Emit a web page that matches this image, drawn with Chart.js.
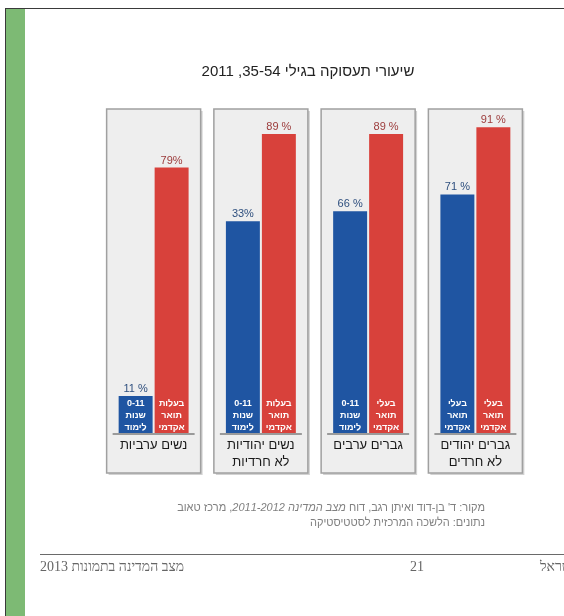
<!DOCTYPE html>
<html lang="he"><head><meta charset="utf-8">
<script src="https://cdn.jsdelivr.net/npm/chart.js@4.4.1/dist/chart.umd.min.js"></script>
<style>
html,body{margin:0;padding:0;background:#fff;width:564px;height:616px;overflow:hidden;}
#frame{position:absolute;left:5px;top:8px;width:600px;height:640px;border-left:1.5px solid #3a3a3a;border-top:1.5px solid #3a3a3a;}
#green{position:absolute;left:6px;top:9px;width:19px;height:607px;background:#7dba74;}
canvas{position:absolute;left:0;top:0;}
.src{position:absolute;right:79px;font-family:'Liberation Sans',Arial,sans-serif;font-size:11px;color:#808080;direction:rtl;white-space:nowrap;}
#rule{position:absolute;left:40px;top:554px;width:524px;height:1px;background:#6a6a6a;}
.foot{position:absolute;top:559px;font-family:'Liberation Serif','DejaVu Serif',serif;font-size:14px;color:#666;direction:rtl;white-space:nowrap;}
</style></head>
<body>
<div id="frame"></div>
<div id="green"></div>
<canvas id="c" width="564" height="616" dir="rtl"></canvas>
<div class="src" style="top:501px">מקור: ד' בן-דוד ואיתן רגב, דוח <i>מצב המדינה 2011-2012</i>, מרכז טאוב</div>
<div class="src" style="top:516px">נתונים: הלשכה המרכזית לסטטיסטיקה</div>
<div id="rule"></div>
<div class="foot" style="left:40px">מצב המדינה בתמונות 2013</div>
<div class="foot" style="left:410px;direction:ltr">21</div>
<div class="foot" style="left:540px">ישראל</div>
<script>
const chartTitle = 'שיעורי תעסוקה בגילי 35-54, 2011';
const categories = [['נשים ערביות'], ['נשים יהודיות', 'לא חרדיות'], ['גברים ערבים'], ['גברים יהודים', 'לא חרדים']];
const seriesNames = ['0-11 שנות לימוד', 'בעלי תואר אקדמי'];
// bar heights as drawn in the picture (the 33% bar is drawn taller in the original)
const blueValues = [11, 63, 66, 71];
const redValues = [79, 89, 89, 91];
const blueLabels = ['11 %', '33%', '66 %', '71 %'];
const redLabels = ['79%', '89 %', '89 %', '91 %'];
const blueInBar = [['0-11', 'שנות', 'לימוד'], ['0-11', 'שנות', 'לימוד'], ['0-11', 'שנות', 'לימוד'], ['בעלי', 'תואר', 'אקדמי']];
const redInBar = [['בעלות', 'תואר', 'אקדמי'], ['בעלות', 'תואר', 'אקדמי'], ['בעלי', 'תואר', 'אקדמי'], ['בעלי', 'תואר', 'אקדמי']];

const FONT = "'Liberation Sans', Arial, 'DejaVu Sans', sans-serif";

const panelPlugin = {
  id: 'panels',
  beforeDatasetsDraw(chart) {
    const ctx = chart.ctx, x = chart.scales.x;
    ctx.save();
    categories.forEach((c, i) => {
      const cx = x.getPixelForValue(i);
      const l = cx - 47, t = 109, w = 94, h = 364;
      ctx.fillStyle = '#d2d2d2';
      ctx.fillRect(l + 2, t + 2, w, h);
      ctx.fillStyle = '#eeeeee';
      ctx.fillRect(l, t, w, h);
      ctx.strokeStyle = '#a0a0a0';
      ctx.lineWidth = 1.5;
      ctx.strokeRect(l, t, w, h);
    });
    ctx.restore();
  },
  afterDatasetsDraw(chart) {
    const ctx = chart.ctx, x = chart.scales.x, y = chart.scales.y;
    const base = y.getPixelForValue(0);
    ctx.save();
    ctx.direction = 'rtl';
    // title
    ctx.fillStyle = '#222';
    ctx.font = '15px ' + FONT;
    ctx.textAlign = 'center';
    ctx.textBaseline = 'middle';
    ctx.fillText(chartTitle, 308, 72);
    categories.forEach((c, i) => {
      const cx = x.getPixelForValue(i);
      ctx.strokeStyle = '#9a9a9a';
      ctx.lineWidth = 2;
      ctx.beginPath();
      ctx.moveTo(cx - 41, base + 1);
      ctx.lineTo(cx + 41, base + 1);
      ctx.stroke();
      ctx.fillStyle = '#1a1a1a';
      ctx.font = '13px ' + FONT;
      c.forEach((line, k) => ctx.fillText(line, cx, base + 12 + k * 17));
    });
    const metas = [chart.getDatasetMeta(0), chart.getDatasetMeta(1)];
    const inBar = [blueInBar, redInBar];
    const lbls = [blueLabels, redLabels];
    const lblColors = ['#2e4f7e', '#9c3b3b'];
    metas.forEach((meta, d) => {
      meta.data.forEach((bar, i) => {
        ctx.fillStyle = '#ffffff';
        ctx.font = 'bold 9px ' + FONT;
        inBar[d][i].forEach((line, k) => ctx.fillText(line, bar.x, base - 29 + k * 12));
        ctx.fillStyle = lblColors[d];
        ctx.font = '11px ' + FONT;
        ctx.save();
        ctx.direction = 'ltr';
        ctx.fillText(lbls[d][i], bar.x, bar.y - 7);
        ctx.restore();
      });
    });
    ctx.restore();
  }
};

new Chart(document.getElementById('c'), {
  type: 'bar',
  data: {
    labels: categories,
    datasets: [
      { label: seriesNames[0], data: blueValues, backgroundColor: '#1f55a2', barPercentage: 0.944, categoryPercentage: 0.671 },
      { label: seriesNames[1], data: redValues, backgroundColor: '#d8413b', barPercentage: 0.944, categoryPercentage: 0.671 }
    ]
  },
  options: {
    responsive: false,
    animation: false,
    devicePixelRatio: 1,
    layout: { padding: { left: 100, right: 35, top: 97, bottom: 183 } },
    scales: {
      x: { display: false },
      y: { display: false, min: 0, max: 100 }
    },
    plugins: { legend: { display: false }, tooltip: { enabled: false }, title: { display: false } }
  },
  plugins: [panelPlugin]
});
</script>
</body></html>
